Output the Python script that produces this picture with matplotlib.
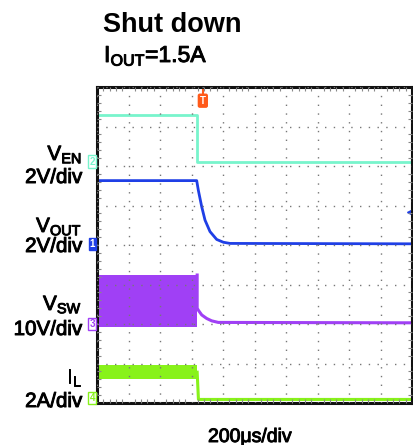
import matplotlib.pyplot as plt
import matplotlib.patheffects as pe
import numpy as np

plt.rcParams['font.family'] = 'Liberation Sans'
plt.rcParams['mathtext.default'] = 'regular'

# scope traces, in divisions (10 x 8 screen)
t_en = [0, 3.165, 3.165, 10]
v_en = [7.29, 7.29, 6.11, 6.11]

t_out = [0, 3.165, 3.216, 3.324, 3.429, 3.587, 3.80, 4.01, 4.22, 10]
v_out = [5.63, 5.63, 5.39, 4.97, 4.63, 4.34, 4.14, 4.07, 4.04, 4.03]

t_sw_on = [0, 3.165]
sw_hi = [3.24, 3.24]
sw_lo = [1.92, 1.92]
t_sw_off = [3.18, 3.18, 3.216, 3.324, 3.482, 3.64, 3.85, 10]
v_sw_off = [3.24, 2.40, 2.35, 2.23, 2.14, 2.08, 2.04, 2.03]

t_il_on = [0, 3.18]
il_hi = [0.96, 0.96]
il_lo = [0.60, 0.60]
t_il_off = [3.18, 3.22, 10]
v_il_off = [0.78, 0.09, 0.09]

c_en = '#78f4cc'
c_out = '#1f3fe6'
c_sw = '#a040f5'
c_il = '#88f21a'

W, H = 414, 445
fig = plt.figure(figsize=(W / 100, H / 100), dpi=100)
ax = fig.add_axes([97 / W, 1 - 403 / H, 315 / W, 316 / H])

def px(x, y):
    return x / W, 1 - y / H

ax.set_xlim(0, 10)
ax.set_ylim(0, 8)
ax.set_xticks(np.arange(0, 11, 1))
ax.set_yticks(np.arange(0, 9, 1))
ax.set_xticks(np.arange(0, 10.01, 0.2), minor=True)
ax.set_yticks(np.arange(0, 8.01, 0.2), minor=True)
ax.tick_params(which='both', direction='in', labelbottom=False, labelleft=False,
               top=True, right=True, color='#888888')
ax.tick_params(which='major', length=0)
ax.tick_params(which='minor', length=3, width=0.8)
ax.grid(True, which='major', color='#777777', linestyle=(0, (1, 5.3)), linewidth=1)
ax.set_axisbelow(False)
for s in ax.spines.values():
    s.set_linewidth(2.2)
    s.set_color('#111111')

ax.fill_between(t_sw_on, sw_lo, sw_hi, color=c_sw, lw=0)
ax.fill_between(t_il_on, il_lo, il_hi, color=c_il, lw=0)
ax.plot(t_en, v_en, color=c_en, lw=2.0)
ax.plot(t_out, v_out, color=c_out, lw=2.0)
ax.plot(t_sw_off, v_sw_off, color=c_sw, lw=2.2)
ax.plot(t_il_off, v_il_off, color=c_il, lw=2.2)

# trigger and offset markers
ax.plot([3.36, 3.36], [8.0, 7.8], color='#ff5a1a', lw=1.5, clip_on=False)
ax.text(3.36, 7.78, 'T', color='white', fontsize=7, fontweight='bold', ha='center', va='top',
        bbox=dict(boxstyle='round,pad=0.15', fc='#ff5a1a', ec='#ff5a1a'), clip_on=False)
ax.plot([9.93], [4.84], marker='<', color=c_out, ms=5, clip_on=False)

# channel ground markers
for lvl, num, col, filled in [(6.11, '2', c_en, False), (4.03, '1', c_out, True),
                              (2.0, '3', c_sw, False), (0.12, '4', c_il, False)]:
    ax.text(-0.06, lvl, num, fontsize=7, ha='right', va='center',
            color='white' if filled else col, fontweight='bold',
            bbox=dict(boxstyle='square,pad=0.12', fc=col if filled else 'white', ec=col, lw=1),
            clip_on=False)

heavy = [pe.withStroke(linewidth=0.7, foreground='black')]

# channel labels
fs = 14.8
labels = [(160, '$V_{EN}$'), (183, '2V/div'),
          (232, '$V_{OUT}$'), (252, '2V/div'),
          (310, '$V_{SW}$'), (335, '10V/div'),
          (383, '$I_{L}$'), (407, '2A/div')]
for y, s in labels:
    fig.text(*px(82, y), s, fontsize=fs, ha='right', va='baseline', path_effects=heavy)

fig.text(*px(103, 32), 'Shut down', fontsize=19.5, fontweight='bold', va='baseline')
fig.text(*px(104, 62), '$I_{OUT}$=1.5A', fontsize=16.5, va='baseline', path_effects=heavy)
fig.text(*px(208, 442), '200\u03bcs/div', fontsize=14, va='baseline', path_effects=heavy)

fig.savefig('out.png', dpi=100)
